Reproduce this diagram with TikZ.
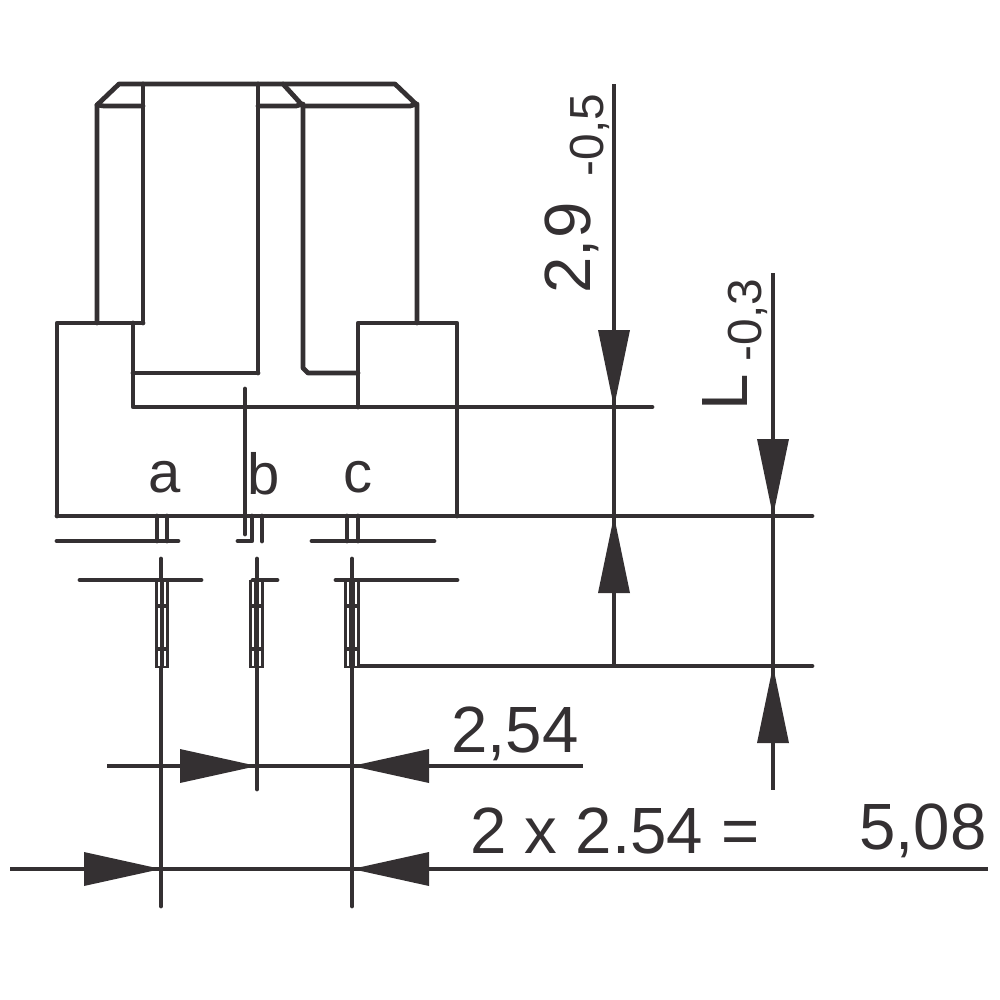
\documentclass[tikz,border=0pt]{standalone}
\usepackage{fontspec}
\setmainfont{Liberation Sans}
\definecolor{ink}{RGB}{52,48,50}
\tikzset{
  part/.style={draw=ink,line width=1.35pt,line cap=round,line join=round},
  dimline/.style={draw=ink,line width=1.25pt,line cap=butt},
  pin gap/.style={draw=white,line width=0.3pt,line cap=butt},
  tipfill/.style={fill=ink,draw=none},
  lab/.style={text=ink,inner sep=0pt,font=\fontsize{18.6}{20}\selectfont},
  key lab/.style={text=ink,inner sep=0pt,font=\fontsize{16.5}{18}\selectfont},
  small lab/.style={text=ink,inner sep=0pt,font=\fontsize{13.6}{15}\selectfont}
}
\newcommand{\tipdown}[2]{\fill[tipfill] (#1,#2) -- ++(-16,-77) -- ++(32,0) -- cycle;}
\newcommand{\tipup}[2]{\fill[tipfill] (#1,#2) -- ++(-16,77) -- ++(32,0) -- cycle;}
\newcommand{\tipright}[2]{\fill[tipfill] (#1,#2) -- ++(-77,-17) -- ++(0,34) -- cycle;}
\newcommand{\tipleft}[2]{\fill[tipfill] (#1,#2) -- ++(77,-17) -- ++(0,34) -- cycle;}
\begin{document}
\begin{tikzpicture}[x=0.01cm,y=-0.01cm]
\useasboundingbox (0,0) rectangle (1000,1000);
% body
\draw[part] (97,323) -- (97,105) -- (119,84) -- (395,84) -- (417,105) -- (417,323);
\draw[part] (97,105) -- (104,106) -- (143,106);
\draw[part] (143,84) -- (143,323);
\draw[part] (258,84) -- (258,373);
\draw[part] (258,106) -- (296,106) -- (303,104);
\draw[part] (283,84) -- (303,106) -- (410,106) -- (417,104);
\draw[part] (303,106) -- (303,368) -- (308,373) -- (358,373);
\draw[part] (133,373) -- (258,373);
\draw[part] (143,323) -- (57,323) -- (57,516);
\draw[part] (133,323) -- (133,407) -- (652,407);
\draw[part] (358,407) -- (358,323) -- (457,323) -- (457,516);
\draw[part] (57,516) -- (812,516);
\draw[part] (245,389) -- (245,516);
% stubs
\draw[part] (157,516) -- (157,541);
\draw[part] (167,516) -- (167,541);
\draw[part] (57,541) -- (178,541);
\draw[part] (245,516) -- (245,534);
\draw[part] (252,516) -- (252,541) -- (238,541);
\draw[part] (262,516) -- (262,541);
\draw[part] (347,516) -- (347,541);
\draw[part] (358,516) -- (358,541);
\draw[part] (312,541) -- (434,541);
% extension lines
\draw[part] (80,580) -- (201,580);
\draw[part] (253,580) -- (277,580);
\draw[part] (336,580) -- (457,580);
% centre lines
\draw[part] (161,559) -- (161,906);
\draw[part] (257,559) -- (257,789);
\draw[part] (352,559) -- (352,906);
\draw[part] (359,666) -- (812,666);
% pins: dark bars split by fine white slits
\foreach \xa/\xb in {155/169,249/264,344/360}{
  \fill[ink] (\xa,580) rectangle (\xb,668);
  \foreach \ya/\yb in {582/604,608/647,651/666}{
    \draw[pin gap] (\xa+4,\ya) -- (\xa+4,\yb);
    \draw[pin gap] (\xb-4,\ya) -- (\xb-4,\yb);
  }
}
% dimensions
\draw[dimline] (614,84) -- (614,666);
\draw[dimline] (773,273) -- (773,790);
\draw[dimline] (107,766) -- (583,766);
\draw[dimline] (10,869) -- (988,869);
\tipdown{614}{407}
\tipup{614}{516}
\tipdown{773}{516}
\tipup{773}{666}
\tipright{257}{766}
\tipleft{352}{766}
\tipright{161}{869}
\tipleft{352}{869}
% labels
\node[key lab] (a) at (165,477) {a};
\node[key lab] (b) at (264,474) {b};
\node[key lab] (c) at (358,477) {c};
\node[lab,rotate=90] (d29) at (572,248) {2,9};
\node[small lab,rotate=90] (d05) at (590,135) {-0,5};
\node[lab,rotate=90] (dL) at (725,392) {L};
\node[small lab,rotate=90] (d03) at (748,320) {-0,3};
\node[lab] (d254) at (515,734) {2,54};
\node[lab] (d2x) at (615,831) {2 x 2.54 =};
\node[lab] (d508) at (923,831) {5,08};
\end{tikzpicture}
\end{document}
